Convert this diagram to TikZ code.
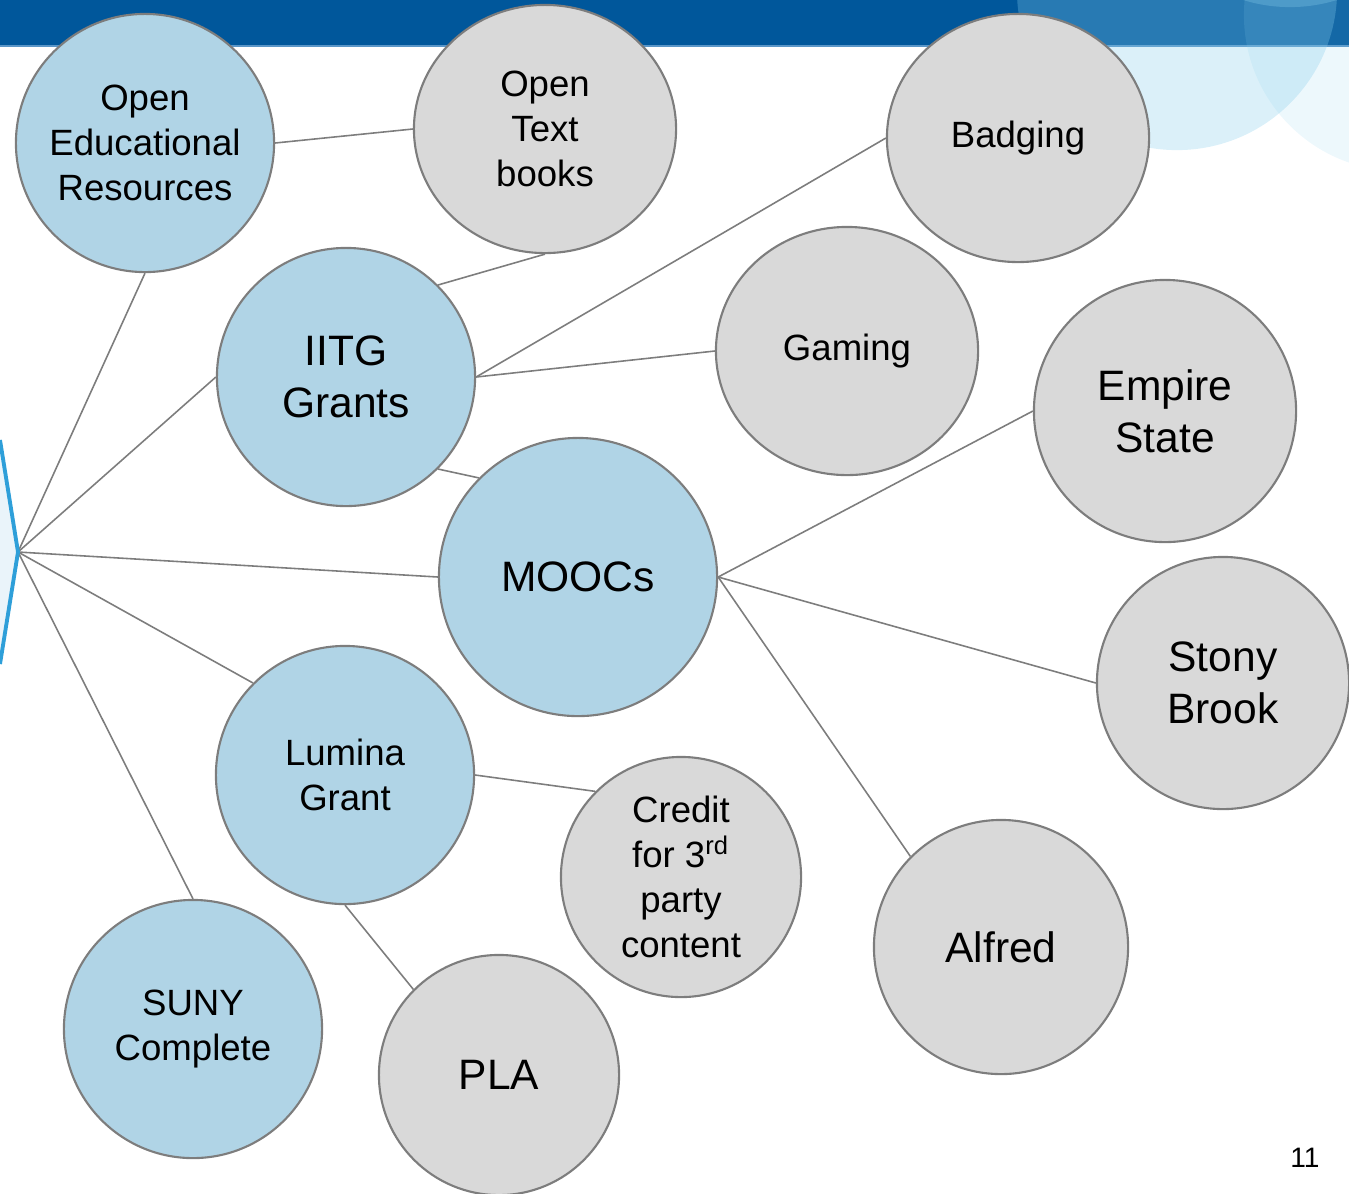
\documentclass[tikz,border=0pt]{standalone}
\usepackage{fontspec}
\setmainfont{Liberation Sans}
\usetikzlibrary{shapes.geometric, backgrounds}

\definecolor{bannerblue}{RGB}{0,87,155}
\definecolor{bannerline}{RGB}{90,150,200}
\definecolor{skyring}{RGB}{135,206,235}
\definecolor{chevblue}{RGB}{46,159,217}
\definecolor{chevfill}{RGB}{234,244,250}
\definecolor{bubbleblue}{RGB}{176,212,230}
\definecolor{bubblegray}{RGB}{217,217,217}
\definecolor{rimgray}{RGB}{125,125,125}

\newcommand\txtsmall{\fontsize{10.4}{12.8}\selectfont}
\newcommand\txtbig{\fontsize{12.1}{14.8}\selectfont}

\begin{document}
\begin{tikzpicture}[x=0.01cm, y=-0.01cm,
    bubble/.style={draw=rimgray, line width=0.6pt, align=center,
      inner sep=0pt, font=\txtsmall},
    blueround/.style={bubble, circle, fill=bubbleblue},
    grayround/.style={bubble, circle, fill=bubblegray},
    grayoval/.style={bubble, ellipse, fill=bubblegray,
      minimum width=2.62cm, minimum height=2.48cm},
    big/.style={font=\txtbig},
    link/.style={draw=rimgray, line width=0.45pt}]

  \useasboundingbox (0,0) rectangle (1349,1193);

  % banner and rings
  \fill[bannerblue] (0,0) rectangle (1349,45);
  \draw[bannerline, line width=0.4pt] (0,46) -- (1349,46);
  \begin{scope}
    \clip (0,0) rectangle (1349,1193);
    \fill[skyring, opacity=0.3]  (1177,-10)  circle[radius=1.6cm];
    \fill[skyring, opacity=0.15] (1400,15)   circle[radius=1.56cm];
    \fill[skyring, opacity=0.3]  (1290,-150) circle[radius=1.57cm];
  \end{scope}

  % left chevron
  \coordinate (hub) at (18,552);
  \fill[chevfill] (0,440) -- (hub) -- (0,664) -- cycle;
  \draw[chevblue, line width=1.1pt] (0,440) -- (hub) -- (0,664);

  % bubbles
  \node[blueround, minimum size=2.58cm] (OER)    at (145,143)  {Open\\Educational\\Resources};
  \node[grayoval]                       (TB)     at (545,129)  {Open\\Text\\books};
  \node[grayoval]                       (Badge)  at (1018,138) {Badging};
  \node[grayoval]                       (Gaming) at (847,351)  {Gaming};
  \node[blueround, big, minimum size=2.58cm] (IITG) at (346,377) {IITG\\Grants};
  \node[blueround, big, minimum size=2.78cm] (MOOC) at (578,577) {MOOCs};
  \node[grayround, big, minimum size=2.62cm] (Emp)  at (1165,411) {Empire\\State};
  \node[grayround, big, minimum size=2.52cm] (Stony) at (1223,683) {Stony\\Brook};
  \node[grayround, big, minimum size=2.54cm] (Alfred) at (1001,947) {Alfred};
  \node[blueround, minimum size=2.58cm] (Lum)    at (345,775)  {Lumina\\Grant};
  \node[grayround, minimum size=2.40cm] (Credit) at (681,877)  {Credit\\for 3\textsuperscript{rd}\\party\\content};
  \node[grayround, big, minimum size=2.40cm] (PLA) at (499,1075) {PLA};
  \node[blueround, minimum size=2.58cm] (SUNY)   at (193,1029) {SUNY\\Complete};

  \node[font=\fontsize{8}{10}\selectfont] (pg) at (1305,1158) {11};

  % connectors
  \begin{scope}[on background layer]
    \draw[link] (hub) -- (OER.south);
    \draw[link] (hub) -- (IITG.west);
    \draw[link] (hub) -- (MOOC.west);
    \draw[link] (hub) -- (Lum.north west);
    \draw[link] (hub) -- (SUNY.north);
    \draw[link] (OER.east) -- (TB.west);
    \draw[link] (IITG.north east) -- (TB.south);
    \draw[link] (IITG.east) -- (Badge.west);
    \draw[link] (IITG.east) -- (Gaming.west);
    \draw[link] (IITG.south east) -- (MOOC.north west);
    \draw[link] (MOOC.east) -- (Emp.west);
    \draw[link] (MOOC.east) -- (Stony.west);
    \draw[link] (MOOC.east) -- (Alfred.north west);
    \draw[link] (Lum.east) -- (Credit.north west);
    \draw[link] (Lum.south) -- (PLA.north west);
  \end{scope}

\end{tikzpicture}
\end{document}
